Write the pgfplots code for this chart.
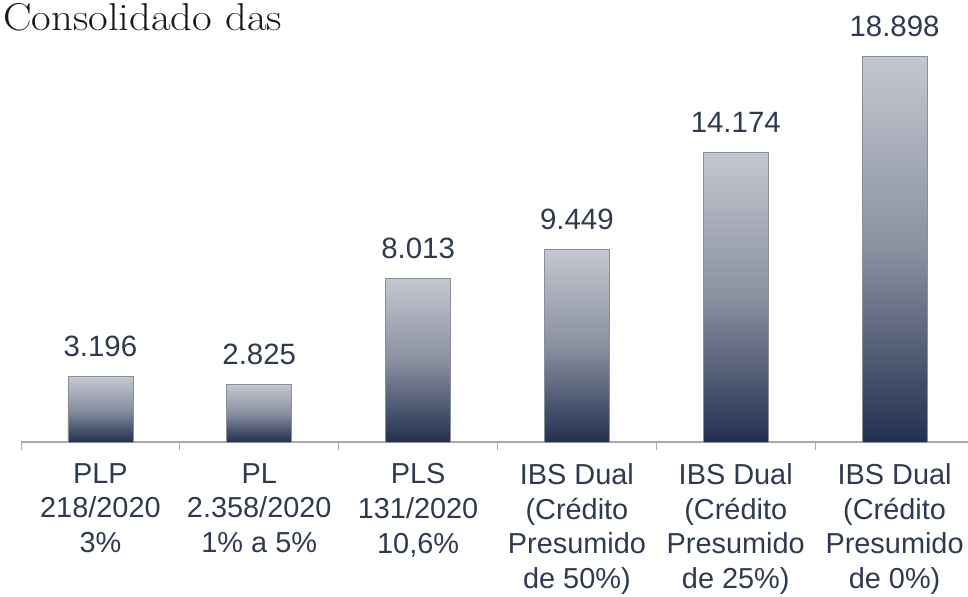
\documentclass[border=0pt]{standalone}
\usepackage{fontspec}
\newfontfamily\lsans{Liberation Sans}
\usepackage{pgfplots}
\pgfplotsset{compat=1.18}
\definecolor{txt}{HTML}{2E3A4E}
\definecolor{bartop}{HTML}{C3C7D0}
\definecolor{barmid}{HTML}{8A90A0}
\definecolor{barbot}{HTML}{223050}
\definecolor{axisgray}{HTML}{A6A9B0}
\definecolor{baredge}{HTML}{8A8E97}
\pgfplotstableread{
x y
0 3196
1 2825
2 8013
3 9449
4 14174
5 18898
}\datatab
\begin{document}
\begin{tikzpicture}
\path[use as bounding box] (0bp,0bp) rectangle (968bp,597bp);
\node[anchor=base west, font=\fontsize{39}{47}\selectfont, text=black!90, inner sep=0pt] at (3bp,566bp) {\scalebox{1.1}[1]{Consolidado das}};
\begin{axis}[
  at={(21bp,155bp)}, anchor=south west,
  width=953bp, height=408bp, scale only axis,
  xmin=-0.5, xmax=5.5, ymin=0, ymax=20000,
  axis x line*=bottom, axis y line=none,
  axis line style={color=axisgray, line width=1.2bp},
  xtick={0,...,5},
  xticklabels={{PLP\\218/2020\\3\%},{PL\\2.358/2020\\1\% a 5\%},{PLS\\131/2020\\10,6\%},{IBS Dual\\(Crédito\\Presumido\\de 50\%)},{IBS Dual\\(Crédito\\Presumido\\de 25\%)},{IBS Dual\\(Crédito\\Presumido\\de 0\%)}},
  major tick length=0pt,
  minor xtick={-0.5,0.5,...,5.5},
  minor tick length=8bp,
  tick align=outside,
  minor tick style={color=axisgray, line width=1bp},
  ytick=\empty,
  xticklabel style={font=\lsans\fontsize{29}{35}\selectfont, align=center, text=txt, anchor=north, inner sep=0pt, yshift=-21bp},
  clip=false,
  barstyle/.style={ybar, bar width=65bp, draw=baredge, line width=0.8bp, top color=bartop, bottom color=barbot, middle color=barmid},
]
\addplot[barstyle] coordinates {(0,3196)};
\addplot[barstyle] coordinates {(1,2825)};
\addplot[barstyle] coordinates {(2,8013)};
\addplot[barstyle] coordinates {(3,9449)};
\addplot[barstyle] coordinates {(4,14174)};
\addplot[barstyle] coordinates {(5,18898)};
\addplot[draw=none, mark=none, nodes near coords,
  every node near coord/.append style={anchor=base, inner sep=0pt, yshift=20bp, font=\lsans\fontsize{29.5}{35}\selectfont, text=txt},
  /pgf/number format/.cd, 1000 sep={.}, fixed, precision=0, assume math mode=true] table[x=x,y=y] {\datatab};
\end{axis}
\end{tikzpicture}
\end{document}
